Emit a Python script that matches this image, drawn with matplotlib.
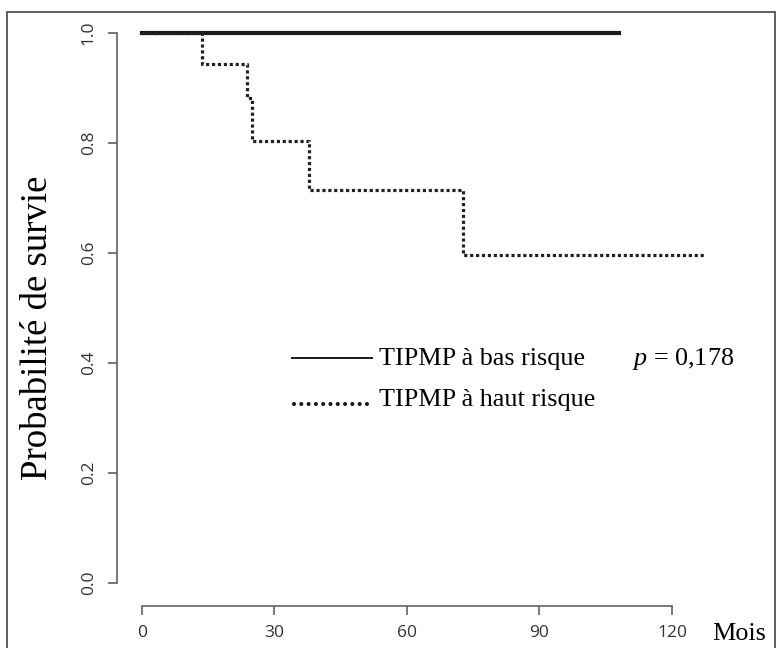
import matplotlib
matplotlib.use("Agg")
import matplotlib.pyplot as plt
from matplotlib.lines import Line2D
from matplotlib.patches import Rectangle

plt.rcParams["mathtext.fontset"] = "custom"
plt.rcParams["mathtext.it"] = "Liberation Serif:italic"
plt.rcParams["mathtext.rm"] = "Liberation Serif"

# Kaplan-Meier steps (mois, survie)
bas_t = [0, 108]
bas_s = [1.0, 1.0]
haut_t = [0, 13.5, 23.8, 24.9, 37.8, 72.7, 127.7]
haut_s = [1.0, 0.944, 0.882, 0.804, 0.715, 0.596, 0.596]

x_ticks = [0, 30, 60, 90, 120]
y_ticks = [0.0, 0.2, 0.4, 0.6, 0.8, 1.0]

W, H = 782, 648
fig = plt.figure(figsize=(W / 100, H / 100), dpi=100)

# outer frame
fig.patches.append(Rectangle((7 / W, -0.05), (775 - 7) / W, 1.05 - 12 / H,
                             transform=fig.transFigure, fill=False,
                             edgecolor="#444444", linewidth=1.2))

x0, x1 = -6, 130
y0, y1 = -0.045, 1.04
px = lambda v: 142 + v * (672 - 142) / 120
py = lambda v: 583 - v * 550
left = px(x0) / W
right = px(x1) / W
bottom = 1 - py(y0) / H
top = 1 - py(y1) / H
ax = fig.add_axes([left, bottom, right - left, top - bottom])
ax.set_xlim(x0, x1)
ax.set_ylim(y0, y1)
ax.patch.set_alpha(0)

ax.plot(bas_t, bas_s, drawstyle="steps-post", color="#1a1a1a", linewidth=3)
ax.plot(haut_t, haut_s, drawstyle="steps-post", color="#222222",
        linewidth=2.3, linestyle=(0, (1, 0.85)))

for s in ["top", "right"]:
    ax.spines[s].set_visible(False)
ax.spines["left"].set_position(("data", -5.7))
ax.spines["bottom"].set_position(("data", -0.042))
ax.spines["left"].set_bounds(0, 1)
ax.spines["bottom"].set_bounds(0, 120)
for s in ["left", "bottom"]:
    ax.spines[s].set_color("#555555")
    ax.spines[s].set_linewidth(1.1)

tick_font = dict(family="Open Sans", fontsize=12.5, color="#333333")
ax.set_xticks(x_ticks)
ax.set_xticklabels([str(v) for v in x_ticks], **tick_font)
ax.set_yticks(y_ticks)
ax.set_yticklabels([f"{v:.1f}" for v in y_ticks], rotation=90, va="center",
                   **tick_font)
ax.tick_params(length=6.5, width=1.1, color="#555555", pad=7)
ax.tick_params(axis="y", pad=8)

serif = "Liberation Serif"
fig.text(38 / W, 1 - 328 / H, "Probabilité de survie", rotation=90,
         ha="center", va="center", family=serif, fontsize=26.5)
fig.text(712 / W, 1 - 634 / H, "Mois", ha="left", va="center",
         family=serif, fontsize=18.8)

# legend drawn by hand
fig.lines.append(Line2D([292 / W, 372 / W], [1 - 358 / H] * 2,
                        transform=fig.transFigure, color="#1a1a1a", linewidth=1.4))
fig.lines.append(Line2D([294 / W, 370 / W], [1 - 404 / H] * 2,
                        transform=fig.transFigure, color="#1a1a1a",
                        linewidth=3, linestyle=(0, (0.001, 1.75)),
                        dash_capstyle="round"))
fig.text(379 / W, 1 - 365 / H, "TIPMP à bas risque", ha="left", va="baseline",
         family=serif, fontsize=18.8)
fig.text(379 / W, 1 - 406 / H, "TIPMP à haut risque", ha="left", va="baseline",
         family=serif, fontsize=18.8)
fig.text(632 / W, 1 - 365 / H, r"$p$ = 0,178", ha="left", va="baseline",
         family=serif, fontsize=18.8)

fig.savefig("out.png", dpi=100)
